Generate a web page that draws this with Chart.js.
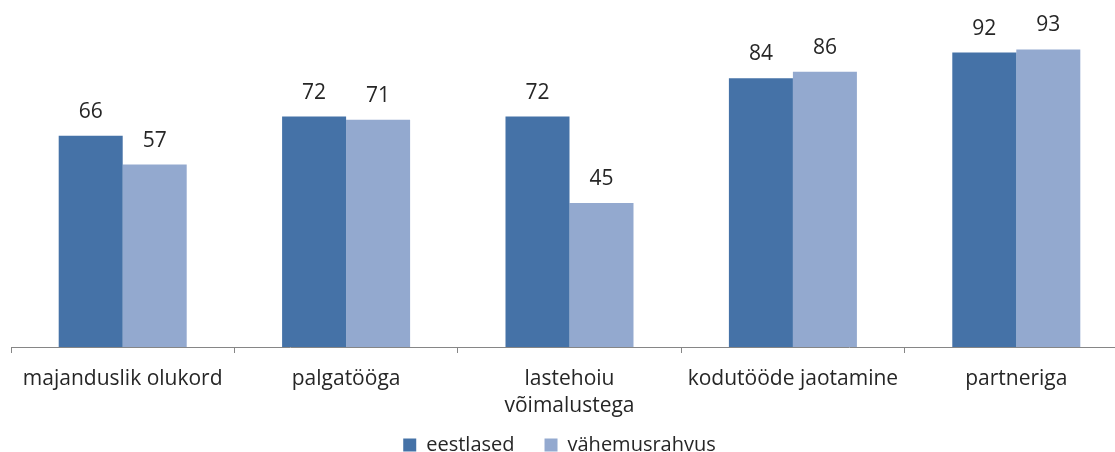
<!DOCTYPE html>
<html>
<head>
<meta charset="utf-8">
<script src="https://cdn.jsdelivr.net/npm/chart.js@4"></script>
<style>
  html, body { margin: 0; padding: 0; background: #fff; overflow: hidden; }
  #wrap { width: 1128px; height: 452px; }
</style>
</head>
<body>
<div id="wrap"><canvas id="graph"></canvas></div>
<script>
const categories = [
  "majanduslik olukord",
  "palgatööga",
  ["lastehoiu", "võimalustega"],
  "kodutööde jaotamine",
  "partneriga"
];
const eestlased = [66, 72, 72, 84, 92];
const vahemusrahvus = [57, 71, 45, 86, 93];

const fontName = "'Open Sans', sans-serif";

// numbers above the bars
const barLabels = {
  id: "barLabels",
  afterDatasetsDraw(chart) {
    const ctx = chart.ctx;
    ctx.save();
    ctx.font = "21px " + fontName;
    ctx.fillStyle = "#262626";
    ctx.textAlign = "center";
    ctx.textBaseline = "alphabetic";
    chart.data.datasets.forEach((ds, i) => {
      chart.getDatasetMeta(i).data.forEach((bar, j) => {
        ctx.fillText(ds.data[j], bar.x, bar.y - 18);
      });
    });
    ctx.restore();
  }
};

// legend padding is large for the item gap, pull it back up/left a bit
const legendShift = {
  id: "legendShift",
  afterLayout(chart) {
    chart.legend.top -= 18;
    chart.legend.bottom -= 18;
    chart.legend.left -= 10;
    chart.legend.right -= 10;
  }
};

const graph = document.getElementById("graph").getContext("2d");

let myChart = new Chart(graph, {
  type: "bar",
  data: {
    labels: categories,
    datasets: [
      {
        label: "eestlased",
        data: eestlased,
        backgroundColor: "#4572A7",
        categoryPercentage: 0.573,
        barPercentage: 1,
      },
      {
        label: "vähemusrahvus",
        data: vahemusrahvus,
        backgroundColor: "#93A9CF",
        categoryPercentage: 0.573,
        barPercentage: 1,
      },
    ],
  },
  options: {
    responsive: true,
    maintainAspectRatio: false,
    animation: false,
    layout: {
      padding: { top: 27, left: 11, right: 0, bottom: -31 },
    },
    plugins: {
      tooltip: { enabled: false },
      legend: {
        position: "bottom",
        labels: {
          font: { family: fontName, size: 20 },
          color: "#262626",
          boxWidth: 13,
          boxHeight: 13,
          padding: 30,
        },
      },
    },
    scales: {
      y: {
        display: false,
        min: 0,
        max: 100,
      },
      x: {
        afterFit(scale) { scale.height = 76; },
        grid: {
          offset: true,
          drawOnChartArea: false,
          drawTicks: true,
          tickLength: 6,
          color: "#868686",
        },
        border: { color: "#868686", width: 1 },
        ticks: {
          font: { family: fontName, size: 21, lineHeight: 1.29 },
          color: "#262626",
          padding: 12,
          maxRotation: 0,
          autoSkip: false,
        },
      },
    },
  },
  plugins: [barLabels, legendShift],
});
</script>
</body>
</html>
